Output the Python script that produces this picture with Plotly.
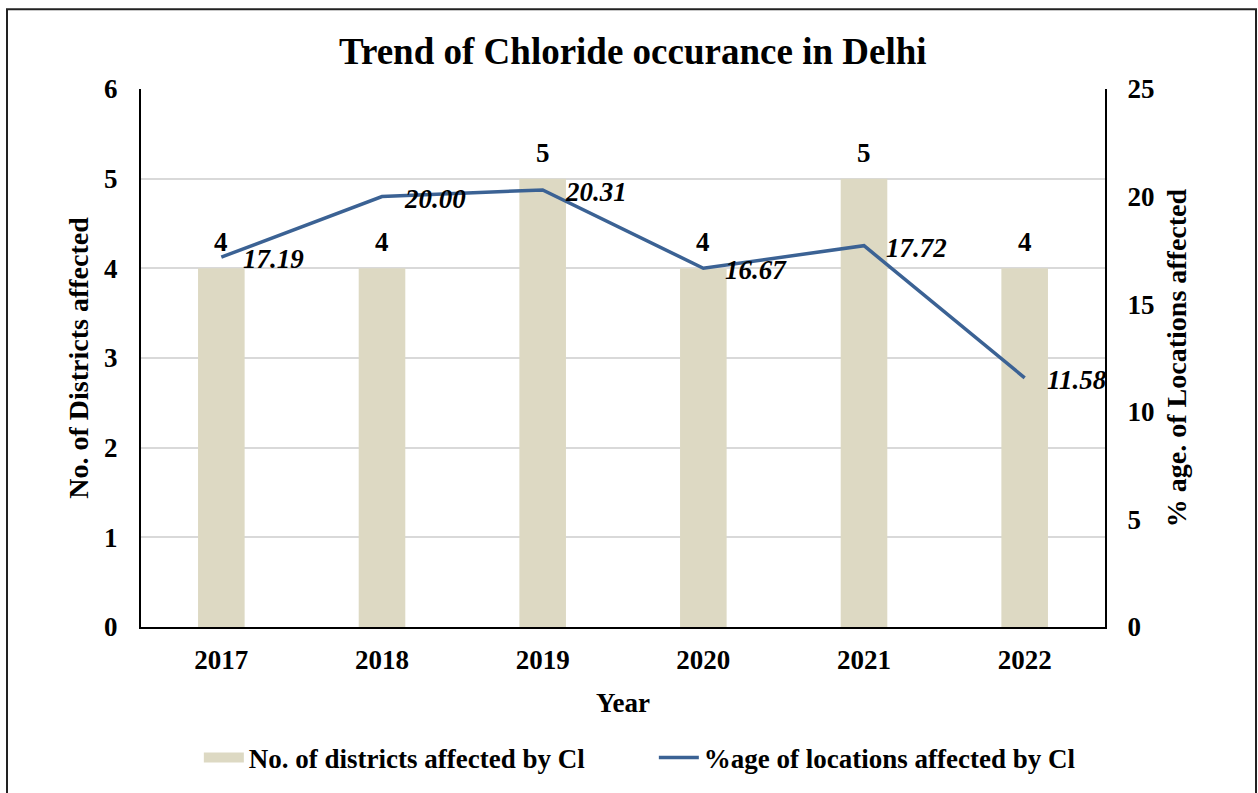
import plotly.graph_objects as go

years = ["2017", "2018", "2019", "2020", "2021", "2022"]
districts = [4, 4, 5, 4, 5, 4]
pct_locations = [17.19, 20.00, 20.31, 16.67, 17.72, 11.58]

FONT = "Liberation Serif, Times New Roman, serif"
BAR_COLOR = "#DDD9C3"
LINE_COLOR = "#3B6294"
BAR_NAME = "No. of districts affected by Cl"
LINE_NAME = "%age of locations affected by Cl"

fig = go.Figure()
fig.add_trace(go.Bar(
    x=years, y=districts, name=BAR_NAME, showlegend=False,
    marker=dict(color=BAR_COLOR, line=dict(width=0)),
    yaxis="y",
))
# legend-only entry giving the wide swatch of the bar series
fig.add_trace(go.Scatter(
    x=[None], y=[None], name=BAR_NAME, mode="lines",
    line=dict(color=BAR_COLOR, width=13), showlegend=True, hoverinfo="skip",
))
fig.add_trace(go.Scatter(
    x=years, y=pct_locations, name=LINE_NAME,
    mode="lines", line=dict(color=LINE_COLOR, width=3.5), yaxis="y2",
))

# value labels above bars
for idx, v in enumerate(districts):
    fig.add_annotation(
        x=idx, y=v, xref="x", yref="y", text=f"<b>{v}</b>",
        showarrow=False, xanchor="center", yanchor="bottom", yshift=9,
        font=dict(family=FONT, size=27, color="black"),
    )

# value labels right of line points
for idx, v in enumerate(pct_locations):
    fig.add_annotation(
        x=idx, y=v, xref="x", yref="y2", text=f"<b><i>{v:.2f}</i></b>",
        showarrow=False, xanchor="left", yanchor="middle", xshift=20, yshift=-2,
        font=dict(family=FONT, size=27, color="black"),
    )

fig.update_layout(
    width=1258, height=793,
    margin=dict(l=141, r=153, t=89, b=165),
    paper_bgcolor="white", plot_bgcolor="white",
    font=dict(family=FONT, color="black"),
    title=dict(text="<b>Trend of Chloride occurance in Delhi</b>", x=0.503, xanchor="center",
               y=0.935, yanchor="middle", font=dict(family=FONT, size=37, color="black")),
    bargap=0.71,
    showlegend=True,
    legend=dict(orientation="h", x=0.06, xanchor="left", y=-0.241, yanchor="middle",
                font=dict(family=FONT, size=27, color="black", weight="bold"),
                itemwidth=40, entrywidth=400, traceorder="normal"),
    xaxis=dict(
        type="category", range=[-0.5, len(years) - 0.5],
        showline=True, linecolor="black", linewidth=2, ticks="", showgrid=False,
        tickfont=dict(family=FONT, size=27, color="black", weight="bold"),
        ticklabelstandoff=8,
        title=dict(text="<b>Year</b>", font=dict(family=FONT, size=27, color="black"), standoff=19),
    ),
    yaxis=dict(
        range=[0, 6], dtick=1, showline=True, linecolor="black", linewidth=2,
        showgrid=True, gridcolor="#D9D9D9", gridwidth=2, zeroline=False, ticks="",
        tickfont=dict(family=FONT, size=27, color="black", weight="bold"),
        ticklabelstandoff=16,
        title=dict(text="<b>No. of Districts affected</b>", font=dict(family=FONT, size=28, color="black"), standoff=7),
    ),
    yaxis2=dict(
        range=[0, 25], dtick=5, overlaying="y", side="right", showline=True, linecolor="black",
        linewidth=2, showgrid=False, zeroline=False, ticks="",
        tickfont=dict(family=FONT, size=27, color="black", weight="bold"),
        ticklabelstandoff=15,
        title=dict(text="<b>% age. of Locations affected</b>", font=dict(family=FONT, size=28, color="black"), standoff=13),
    ),
)

fig.add_shape(type="rect", xref="paper", yref="paper",
              x0=(7 - 141) / 964, x1=(1256 - 141) / 964,
              y0=(628 - 830) / 539, y1=(628 - 9) / 539,
              line=dict(color="#222222", width=2), fillcolor="rgba(0,0,0,0)", layer="below")

fig.write_html("out.html")
